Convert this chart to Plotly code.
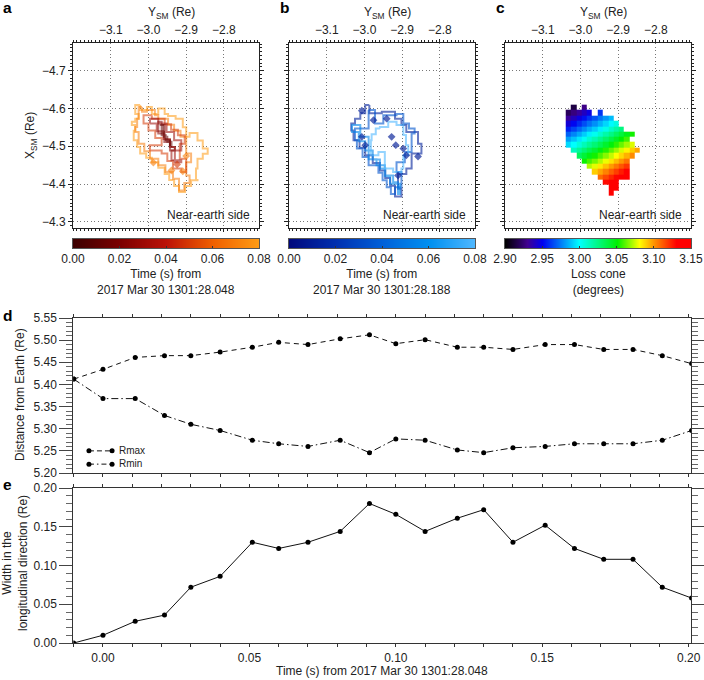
import plotly.graph_objects as go
from plotly.colors import sample_colorscale

N = None
FONT = "Liberation Sans"
W, H = 704, 680

# ---------- panel a: expanding contours (Y_SM, X_SM) ----------
a_times = [0.08, 0.07, 0.05, 0.03, 0.022, 0.012]
a_y = [
    [-3.022,-3.035,-3.035,-3.026,-3.035,-3.044,-3.035,-3.039,-3.030,-3.022,-3.006,-2.991,-2.974,-2.957,-2.945,-2.932,-2.919,-2.903,-2.887,-2.870,-2.874,-2.870,-2.856,-2.843,-2.856,-2.870,-2.891,-2.900,-2.909,-2.928,-2.948,-2.957,-2.974,-2.991,-3.004,-3.022],
    [-3.017,-3.026,-3.030,-3.035,-3.026,-3.011,-2.996,-2.974,-2.955,-2.935,-2.919,-2.905,-2.891,-2.900,-2.887,-2.900,-2.915,-2.932,-2.948,-2.974,-2.983,-3.004,-3.017],
    [-2.991,-3.013,-3.000,-2.982,-2.965,-3.000,-2.996,-2.965,-2.950,-2.935,-2.913,-2.900,-2.917,-2.904,-2.922,-2.940,-2.957,-2.974,-2.991],
    [-2.996,-2.978,-2.960,-2.943,-2.930,-2.913,-2.939,-2.913,-2.932,-2.952,-2.974,-2.996],
    [-2.974,-2.974,-2.958,-2.943,-2.930,-2.943,-2.957,-2.957,-2.965,-2.974],
    [-2.970,-2.965,-2.954,-2.943,-2.939,-2.950,-2.959,-2.961,-2.970],
]
a_x = [
    [-4.609,-4.597,-4.585,-4.573,-4.565,-4.556,-4.541,-4.516,-4.498,-4.481,-4.470,-4.458,-4.443,-4.427,-4.411,-4.395,-4.379,-4.395,-4.410,-4.411,-4.441,-4.467,-4.480,-4.494,-4.515,-4.535,-4.525,-4.550,-4.573,-4.580,-4.585,-4.600,-4.585,-4.604,-4.596,-4.609],
    [-4.604,-4.573,-4.551,-4.538,-4.507,-4.487,-4.467,-4.450,-4.432,-4.414,-4.383,-4.403,-4.423,-4.458,-4.481,-4.525,-4.541,-4.557,-4.573,-4.582,-4.596,-4.591,-4.604],
    [-4.582,-4.560,-4.542,-4.522,-4.503,-4.503,-4.489,-4.481,-4.461,-4.441,-4.432,-4.467,-4.507,-4.529,-4.544,-4.558,-4.573,-4.573,-4.582],
    [-4.560,-4.540,-4.519,-4.498,-4.458,-4.463,-4.489,-4.516,-4.538,-4.560,-4.573,-4.560],
    [-4.556,-4.534,-4.511,-4.489,-4.498,-4.516,-4.534,-4.556,-4.565,-4.556],
    [-4.556,-4.529,-4.516,-4.503,-4.512,-4.525,-4.538,-4.556,-4.556],
]
a_spot_y = [-2.987,-2.939,-2.909,-2.900,-2.924]
a_spot_x = [-4.457,-4.436,-4.434,-4.474,-4.452]
a_spot_t = [0.07,0.07,0.07,0.07,0.05]

# ---------- panel b ----------
b_times = [0.012, 0.035, 0.055, 0.08]
b_y = [
    [-2.987,-2.998,-3.011,-3.025,-3.035,-3.029,-3.013,-2.998,-2.978,-2.959,-2.945,-2.932,-2.919,-2.902,-2.911,-2.889,-2.875,-2.849,-2.858,-2.889,-2.902,-2.919,-2.954,-2.976,-2.987],
    [-2.989,-2.972,-2.950,-2.915,-2.897,-2.882,-2.867,-2.875,-2.893,-2.915,-2.902,-2.919,-2.930,-2.941,-2.952,-2.963,-2.989,-3.005,-3.020,-3.025,-2.989],
    [-3.029,-3.033,-3.015,-2.998,-2.978,-2.959,-2.945,-2.932,-2.906,-2.911,-2.924,-2.946,-2.968,-2.989,-2.989,-3.011,-3.029],
    [-2.959,-2.970,-2.981,-2.983,-2.963,-2.946,-2.946,-2.924,-2.902,-2.897,-2.884,-2.890,-2.897,-2.915,-2.937,-2.959],
]
b_x = [
    [-4.609,-4.587,-4.573,-4.560,-4.542,-4.516,-4.496,-4.476,-4.456,-4.436,-4.416,-4.396,-4.367,-4.388,-4.427,-4.441,-4.481,-4.507,-4.538,-4.556,-4.573,-4.591,-4.587,-4.587,-4.609],
    [-4.596,-4.560,-4.582,-4.585,-4.560,-4.547,-4.534,-4.485,-4.458,-4.432,-4.392,-4.374,-4.392,-4.410,-4.430,-4.450,-4.472,-4.494,-4.516,-4.547,-4.596],
    [-4.556,-4.538,-4.513,-4.489,-4.465,-4.441,-4.421,-4.401,-4.374,-4.405,-4.423,-4.450,-4.466,-4.481,-4.525,-4.556,-4.556],
    [-4.547,-4.532,-4.516,-4.476,-4.485,-4.467,-4.441,-4.432,-4.441,-4.476,-4.503,-4.530,-4.556,-4.565,-4.551,-4.547],
]
b_spot_y = [-3.007,-2.928,-2.917,-2.897,-2.889,-2.858,-2.998,-3.007,-2.911,-2.941,-2.976]
b_spot_x = [-4.594,-4.525,-4.503,-4.494,-4.476,-4.473,-4.503,-4.525,-4.423,-4.573,-4.569]

# ---------- panel c: loss cone map ----------
c_cols = [-3.032,-3.018,-3.004,-2.990,-2.976,-2.962,-2.948,-2.933,-2.919,-2.905,-2.891,-2.877,-2.863,-2.849]
c_rows = [-4.603,-4.589,-4.574,-4.560,-4.546,-4.532,-4.518,-4.504,-4.490,-4.476,-4.461,-4.447,-4.433,-4.419,-4.405,-4.391,-4.376]
c_loss = [
    [N,2.914,N,2.928,N,N,N,N,N,N,N,N,N,N],
    [2.919,2.926,2.933,2.940,2.947,N,2.960,N,N,N,N,N,N,N],
    [2.932,2.939,2.946,2.953,2.960,2.966,2.973,2.980,2.987,N,N,N,N,N],
    [2.944,2.951,2.958,2.965,2.972,2.978,2.985,2.992,2.999,3.006,N,N,N,N],
    [2.956,2.963,2.970,2.977,2.984,2.990,2.997,3.004,3.011,3.018,3.025,N,N,N],
    [2.969,2.976,2.983,2.990,2.997,3.003,3.010,3.017,3.024,3.031,3.038,3.045,3.052,N],
    [2.981,2.988,2.995,3.002,3.009,3.015,3.022,3.029,3.036,3.043,3.050,3.057,N,N],
    [2.993,3.000,3.007,3.014,3.021,3.027,3.034,3.041,3.048,3.055,3.062,3.069,3.076,N],
    [N,3.013,3.020,3.027,3.034,3.040,3.047,3.054,3.061,3.068,3.075,3.082,3.089,3.096],
    [N,N,3.032,3.039,3.046,3.052,3.059,3.066,3.073,3.080,3.087,3.094,3.101,N],
    [N,N,N,3.051,3.058,3.064,3.071,3.078,3.085,3.092,3.099,3.106,N,N],
    [N,N,N,N,3.071,3.077,3.084,3.091,3.098,3.105,3.112,3.119,N,N],
    [N,N,N,N,N,3.089,3.096,3.103,3.110,3.117,3.124,3.131,N,N],
    [N,N,N,N,N,N,3.108,3.115,3.122,3.129,3.136,3.143,N,N],
    [N,N,N,N,N,N,N,3.128,3.135,3.142,N,N,N,N],
    [N,N,N,N,N,N,N,N,3.147,3.150,N,N,N,N],
    [N,N,N,N,N,N,N,N,3.150,N,N,N,N,N],
]

# ---------- colour bars ----------
bar_time = [0.0,0.01,0.02,0.03,0.04,0.05,0.06,0.07,0.08]
bar_loss = [2.90,2.92,2.93,2.95,2.975,3.00,3.025,3.05,3.08,3.10,3.13,3.15]

# ---------- panels d, e ----------
times = [-0.01,0.0,0.011,0.021,0.03,0.04,0.051,0.06,0.07,0.081,0.091,0.1,0.11,0.121,0.13,0.14,0.151,0.161,0.171,0.181,0.191,0.201]
rmax = [5.412,5.434,5.461,5.465,5.465,5.473,5.484,5.495,5.490,5.503,5.512,5.492,5.501,5.484,5.484,5.479,5.490,5.490,5.479,5.479,5.465,5.447]
rmin = [5.412,5.368,5.368,5.330,5.310,5.296,5.274,5.266,5.260,5.274,5.246,5.277,5.274,5.252,5.246,5.257,5.260,5.266,5.266,5.266,5.274,5.296]
width = [0.0,0.010,0.028,0.036,0.072,0.086,0.130,0.122,0.130,0.144,0.180,0.166,0.144,0.161,0.172,0.130,0.152,0.122,0.108,0.108,0.072,0.058]
legend_t = [-0.0048, 0.0031]
legend_rmax = [5.25, 5.25]
legend_rmin = [5.22, 5.22]

RED = [[0,"#3c0000"],[0.25,"#7c0000"],[0.5,"#bc1208"],[0.75,"#f06000"],[1,"#ff9c14"]]
BLUE = [[0,"#00087c"],[0.25,"#0030b0"],[0.5,"#0060d8"],[0.75,"#0090f0"],[1,"#50b8ff"]]
RAINBOW = [[0,"#000000"],[0.08,"#2a0060"],[0.12,"#400090"],[0.2,"#0000f0"],[0.4,"#00ffff"],
           [0.6,"#00f000"],[0.72,"#ffff00"],[0.8,"#ff9000"],[0.92,"#ff0000"],[1,"#ff0000"]]

def col(scale, t):
    return sample_colorscale(scale, [t / 0.08])[0]

fig = go.Figure()
PANEL_L = [73, 289, 505]
PANEL_W = 186
YR = [-3.2, -2.707]
XR = [-4.284, -4.773]
AXF = dict(family=FONT, size=12, color="#222")
CONT_SHAPE = "hv"

for t, y, x in zip(a_times, a_y, a_x):
    fig.add_trace(go.Scatter(x=y, y=x, mode="lines", xaxis="x", yaxis="y", opacity=0.55,
                             line=dict(color=col(RED, t), width=2, shape=CONT_SHAPE), showlegend=False))
fig.add_trace(go.Scatter(x=a_spot_y, y=a_spot_x, mode="markers", xaxis="x", yaxis="y", opacity=0.6,
                         marker=dict(symbol="diamond", size=6, color=[col(RED, t) for t in a_spot_t]), showlegend=False))

for t, y, x in zip(b_times, b_y, b_x):
    fig.add_trace(go.Scatter(x=y, y=x, mode="lines", xaxis="x2", yaxis="y2", opacity=0.6,
                             line=dict(color=col(BLUE, t), width=2, shape=CONT_SHAPE), showlegend=False))
fig.add_trace(go.Scatter(x=b_spot_y, y=b_spot_x, mode="markers", xaxis="x2", yaxis="y2", opacity=0.65,
                         marker=dict(symbol="diamond", size=6, color=col(BLUE, 0.01)), showlegend=False))

fig.add_trace(go.Heatmap(x=c_cols, y=c_rows, z=c_loss, xaxis="x3", yaxis="y3", zmin=2.90, zmax=3.15,
                         colorscale=RAINBOW, hoverongaps=False, showscale=False))

for i, (vals, scale, lo, hi) in enumerate([(bar_time, RED, 0, 0.08), (bar_time, BLUE, 0, 0.08), (bar_loss, RAINBOW, 2.90, 3.15)]):
    fig.add_trace(go.Heatmap(x=vals, y=[0, 1], z=[vals, vals], xaxis=f"x{6+i}", yaxis=f"y{6+i}", zmin=lo, zmax=hi,
                             colorscale=scale, zsmooth="best", showscale=False))

LINE = dict(color="#111", width=1)
MK = dict(color="#000", size=5)
fig.add_trace(go.Scatter(x=times, y=rmax, mode="lines+markers", xaxis="x4", yaxis="y4", showlegend=False,
                         line=dict(color="#111", width=1, dash="5px,4px"), marker=MK))
fig.add_trace(go.Scatter(x=times, y=rmin, mode="lines+markers", xaxis="x4", yaxis="y4", showlegend=False,
                         line=dict(color="#111", width=1, dash="7px,3px,1.5px,3px"), marker=MK))
fig.add_trace(go.Scatter(x=legend_t, y=legend_rmax, mode="lines+markers", xaxis="x4", yaxis="y4", showlegend=False,
                         line=dict(color="#111", width=1, dash="5px,3px"), marker=MK))
fig.add_trace(go.Scatter(x=legend_t, y=legend_rmin, mode="lines+markers", xaxis="x4", yaxis="y4", showlegend=False,
                         line=dict(color="#111", width=1, dash="5px,3px,1.5px,3px"), marker=MK))
fig.add_trace(go.Scatter(x=times, y=width, mode="lines+markers", xaxis="x5", yaxis="y5", showlegend=False,
                         line=LINE, marker=MK))

layout = dict(width=W, height=H, margin=dict(l=0, r=0, t=0, b=0), paper_bgcolor="white", plot_bgcolor="white",
              font=dict(family=FONT, size=12, color="#222"), showlegend=False)

GRID = dict(showgrid=True, griddash="1px,2.5px", gridcolor="#777", gridwidth=1, zeroline=False, automargin=False)
for i, left in enumerate(PANEL_L):
    s = "" if i == 0 else str(i + 1)
    layout["xaxis" + s] = dict(domain=[left / W, (left + PANEL_W) / W], anchor="y" + s, range=YR, side="top",
                               tickvals=[-3.1, -3.0, -2.9, -2.8], tickformat=".1f", showline=True, linecolor="#222",
                               mirror="ticks", ticks="outside", ticklen=3, tickwidth=1, tickcolor="#222",
                               minor=dict(dtick=0.01, tick0=-3.2, ticks="outside", ticklen=2, tickwidth=1, tickcolor="#222"),
                               tickfont=AXF, **GRID)
    layout["yaxis" + s] = dict(domain=[1 - 228 / H, 1 - 43 / H], anchor="x" + s, range=XR,
                               tickvals=[-4.7, -4.6, -4.5, -4.4, -4.3], tickformat=".1f", showline=True, linecolor="#222",
                               mirror="ticks", ticks="outside", ticklen=4, tickwidth=1, tickcolor="#222",
                               showticklabels=(i == 0),
                               minor=dict(dtick=0.01, tick0=-4.8, ticks="outside", ticklen=2, tickwidth=1, tickcolor="#222"),
                               tickfont=AXF, **GRID)
    j = 6 + i
    rng = [2.90, 3.15] if i == 2 else [0, 0.08]
    dt = 0.05 if i == 2 else 0.02
    layout[f"xaxis{j}"] = dict(domain=[left / W, (left + PANEL_W) / W], anchor=f"y{j}", range=rng, dtick=dt, tick0=rng[0],
                               tickformat=".2f", ticks="inside", ticklen=2, tickcolor="#333", showline=True, automargin=False,
                               linecolor="#555", linewidth=0.6, mirror=True, showgrid=False, zeroline=False, tickfont=AXF)
    layout[f"yaxis{j}"] = dict(domain=[1 - 248 / H, 1 - 239 / H], anchor=f"x{j}", range=[0, 1], showticklabels=False, automargin=False,
                               ticks="", showline=True, linecolor="#555", linewidth=0.6, mirror=True, showgrid=False, zeroline=False)

TIME_R = [-0.01014, 0.2009]
def time_x(anchor, labels):
    return dict(domain=[73.3 / W, 691.3 / W], anchor=anchor, range=TIME_R, tickvals=[0, 0.05, 0.1, 0.15, 0.2], automargin=False,
                tickformat=".2f", showticklabels=labels, showline=True, linecolor="#333", mirror="ticks",
                ticks="outside", ticklen=3, tickwidth=1, tickcolor="#333", showgrid=False, zeroline=False, ticklabelstandoff=1,
                minor=dict(dtick=0.01, tick0=0, ticks="outside", ticklen=3, tickwidth=1, tickcolor="#333"), tickfont=AXF)
def val_y(anchor, top, bottom, rng, dt):
    return dict(domain=[1 - bottom / H, 1 - top / H], anchor=anchor, range=rng, dtick=dt, tick0=rng[0], automargin=False,
                tickformat=".2f", showline=True, linecolor="#333", mirror="ticks", ticks="outside", ticklen=13,
                tickwidth=1, tickcolor="#444", showgrid=False, zeroline=False,
                minor=dict(dtick=0.01, tick0=rng[0], ticks="outside", ticklen=6, tickwidth=1, tickcolor="#666"), tickfont=AXF)

layout["xaxis4"] = time_x("y4", False)
layout["yaxis4"] = val_y("x4", 318, 473, [5.20, 5.55], 0.05)
layout["xaxis5"] = time_x("y5", True)
layout["yaxis5"] = val_y("x5", 488, 643, [0.0, 0.20], 0.05)
fig.update_layout(**layout)

def note(x, y, text, size=12, bold=False, angle=0, xanchor="center"):
    fig.add_annotation(x=x / W, y=1 - y / H, xref="paper", yref="paper", text=f"<b>{text}</b>" if bold else text,
                       showarrow=False, textangle=angle, xanchor=xanchor, yanchor="middle",
                       font=dict(family=FONT, size=size, color="#000" if bold else "#222"))

for left in PANEL_L:
    note(left + 98, 13, "Y<sub>SM</sub> (Re)")
    note(left + 179, 215, "Near-earth side", xanchor="right")
note(31, 136, "X<sub>SM</sub> (Re)", angle=-90)
note(20, 395, "Distance from Earth (Re)", angle=-90)
note(15, 563, "Width in the<br>longitudinal direction (Re)", angle=-90)
note(382, 671, "Time (s) from 2017 Mar 30 1301:28.048")
note(166, 282, "Time (s) from<br>2017 Mar 30 1301:28.048")
note(382, 282, "Time (s) from<br>2017 Mar 30 1301:28.188")
note(598, 282, "Loss cone<br>(degrees)")
note(117, 450, "Rmax", size=10, xanchor="left")
note(117, 463, "Rmin", size=10, xanchor="left")
for x, y, t in [(1, 8, "a"), (278, 8, "b"), (494, 8, "c"), (1, 315, "d"), (1, 484, "e")]:
    note(x, y, t, size=15.5, bold=True, xanchor="left")

fig.write_html("out.html", config={"displayModeBar": False},
               post_script="document.body.style.margin='0';document.body.style.overflow='hidden';")
